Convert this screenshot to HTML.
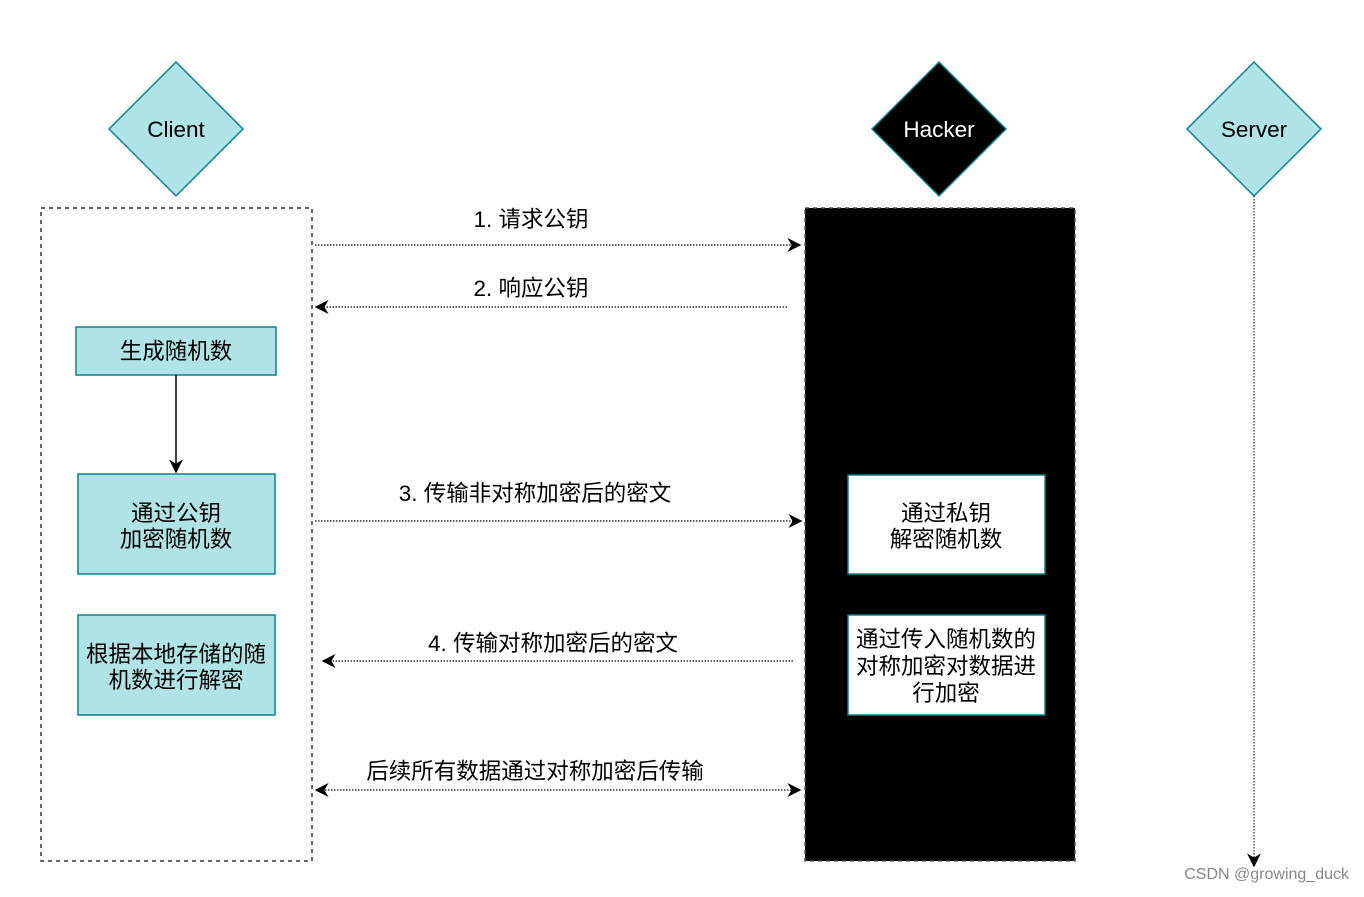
<!DOCTYPE html>
<html><head><meta charset="utf-8"><style>
html,body{margin:0;padding:0;background:#fff}
svg text{font-family:"Liberation Sans","Noto Sans CJK SC",sans-serif;font-size:22.5px;fill:#000}
</style></head><body>
<svg width="1364" height="892" viewBox="0 0 1364 892" xmlns="http://www.w3.org/2000/svg">
<defs>
<marker id="b" viewBox="0 0 10 10" refX="9" refY="5" markerWidth="14" markerHeight="14" orient="auto-start-reverse" markerUnits="userSpaceOnUse">
<path d="M0,0 L10,5 L0,10 L3,5 z" fill="#000"/></marker>
</defs>
<polygon points="176,62 243,129 176,196 109,129" fill="#b0e3e6" stroke="#0e8088" stroke-width="1.5"/>
<text x="176" y="137" text-anchor="middle">Client</text>
<polygon points="939,62 1006,129 939,196 872,129" fill="#000" stroke="#0e8088" stroke-width="1.5"/>
<text x="939" y="137" text-anchor="middle" style="fill:#fff">Hacker</text>
<polygon points="1254,62 1321,129 1254,196 1187,129" fill="#b0e3e6" stroke="#0e8088" stroke-width="1.5"/>
<text x="1254" y="137" text-anchor="middle">Server</text>
<rect x="41" y="208" width="271" height="653" fill="none" stroke="#333" stroke-width="1.5" stroke-dasharray="4,4"/>
<rect x="805" y="208" width="270" height="653" fill="#000" stroke="#555" stroke-width="1.5" stroke-dasharray="4,4"/>
<line x1="1254" y1="196" x2="1254" y2="866" stroke="#555" stroke-width="1.5" stroke-dasharray="1.5,1.5" marker-end="url(#b)"/>
<rect x="76" y="327" width="200" height="48" fill="#b0e3e6" stroke="#0e8088" stroke-width="1.5"/>
<text x="176" y="359" text-anchor="middle">生成随机数</text>
<line x1="176" y1="375" x2="176" y2="472" stroke="#000" stroke-width="1.5" marker-end="url(#b)"/>
<rect x="78" y="474" width="197" height="100" fill="#b0e3e6" stroke="#0e8088" stroke-width="1.5"/>
<text x="176" y="521" text-anchor="middle">通过公钥</text>
<text x="176" y="547" text-anchor="middle">加密随机数</text>
<rect x="78" y="615" width="197" height="100" fill="#b0e3e6" stroke="#0e8088" stroke-width="1.5"/>
<text x="176" y="662" text-anchor="middle">根据本地存储的随</text>
<text x="176" y="688" text-anchor="middle">机数进行解密</text>
<rect x="848" y="475" width="197" height="99" fill="#fff" stroke="#0e8088" stroke-width="1.5"/>
<text x="946" y="521" text-anchor="middle">通过私钥</text>
<text x="946" y="547" text-anchor="middle">解密随机数</text>
<rect x="848" y="615" width="197" height="100" fill="#fff" stroke="#0e8088" stroke-width="1.5"/>
<text x="946" y="647" text-anchor="middle">通过传入随机数的</text>
<text x="946" y="674" text-anchor="middle">对称加密对数据进</text>
<text x="946" y="701" text-anchor="middle">行加密</text>
<g stroke="#333" stroke-width="1.5" stroke-dasharray="1.5,1.5" fill="none">
<line x1="315" y1="245" x2="800" y2="245" marker-end="url(#b)"/>
<line x1="787" y1="307" x2="316" y2="307" marker-end="url(#b)"/>
<line x1="315" y1="521" x2="801" y2="521" marker-end="url(#b)"/>
<line x1="793" y1="661" x2="323" y2="661" marker-end="url(#b)"/>
<line x1="316" y1="790" x2="800" y2="790" marker-start="url(#b)" marker-end="url(#b)"/>
</g>
<text x="531" y="227" text-anchor="middle">1. 请求公钥</text>
<text x="531" y="296" text-anchor="middle">2. 响应公钥</text>
<text x="535" y="501" text-anchor="middle">3. 传输非对称加密后的密文</text>
<text x="553" y="651" text-anchor="middle">4. 传输对称加密后的密文</text>
<text x="535" y="779" text-anchor="middle">后续所有数据通过对称加密后传输</text>
<text x="1349" y="879" text-anchor="end" style="font-size:16px;fill:#888">CSDN @growing_duck</text>
</svg>
</body></html>
